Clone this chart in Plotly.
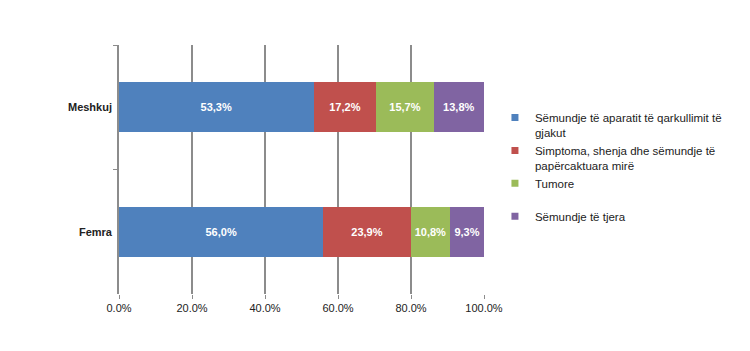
import plotly.graph_objects as go

categories = ["Meshkuj", "Femra"]
series_names = [
    "Sëmundje të aparatit të qarkullimit të<br>gjakut",
    "Simptoma, shenja dhe sëmundje të<br>papërcaktuara mirë",
    "Tumore<br> ",
    "Sëmundje të tjera",
]
series_values = [
    [53.3, 56.0],
    [17.2, 23.9],
    [15.7, 10.8],
    [13.8, 9.3],
]
colors = ["#4F81BD", "#C0504D", "#9BBB59", "#8064A2"]
tick_vals = [0, 20, 40, 60, 80, 100]
tick_text = ["0.0%", "20.0%", "40.0%", "60.0%", "80.0%", "100.0%"]

fig = go.Figure()
for name, vals, col in zip(series_names, series_values, colors):
    fig.add_trace(go.Bar(
        y=categories, x=vals, name=name, orientation="h",
        marker=dict(color=col, line=dict(width=0)),
        text=[f"{v:.1f}".replace(".", ",") + "%" for v in vals],
        textposition="inside", insidetextanchor="middle",
        textfont=dict(color="white", size=11, family="Liberation Sans", weight="bold"),
        textangle=0, showlegend=False,
    ))
for name, col in zip(series_names, colors):
    fig.add_trace(go.Scatter(
        x=[None], y=[None], mode="markers", name=name,
        marker=dict(symbol="square", size=7, color=col),
    ))

fig.update_layout(
    barmode="stack",
    bargap=0.6,
    width=750, height=351,
    margin=dict(l=119, r=266, t=45, b=57),
    paper_bgcolor="white", plot_bgcolor="white",
    font=dict(family="Liberation Sans", size=11, color="#222"),
    uniformtext=dict(minsize=8, mode="show"),
    legend=dict(
        x=1.03, y=0.765, xanchor="left", yanchor="top",
        traceorder="normal", valign="top",
        font=dict(size=11.5, color="#222"),
        itemwidth=30,
    ),
)
fig.update_xaxes(
    range=[0, 100], tickvals=tick_vals, ticktext=tick_text,
    showgrid=True, gridcolor="#8c8c8c", gridwidth=1.5,
    zeroline=False, showline=False,
    ticks="outside", ticklen=4, tickcolor="#8c8c8c",
    tickfont=dict(size=11, color="#222"),
)
fig.update_yaxes(
    categoryorder="array", categoryarray=categories, autorange="reversed",
    showline=True, linecolor="#8c8c8c", linewidth=1.5,
    ticks="outside", ticklen=4, tickcolor="#8c8c8c", tickson="boundaries",
    tickfont=dict(size=11, color="#222", weight="bold"),
    ticksuffix=" ",
)

fig.write_html("out.html")
